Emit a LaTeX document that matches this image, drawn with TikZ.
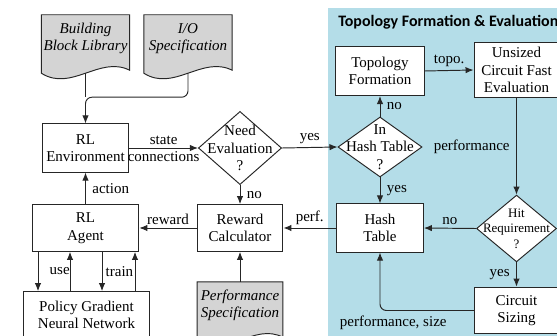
\documentclass[tikz,border=0pt]{standalone}
\usepackage{fontspec}
\setmainfont{Liberation Serif}
\newfontfamily\titlefont{Carlito}
\usepackage{tikz}
\usetikzlibrary{shapes,arrows,positioning,calc,arrows.meta}

\definecolor{panelblue}{RGB}{180,221,232}
\definecolor{docgray}{RGB}{212,212,212}

\pgfdeclarelayer{background}
\pgfsetlayers{background,main}

% document shape with a wavy bottom, drawn behind the node text
\newcommand{\docshape}[1]{%
  \begin{pgfonlayer}{background}
    \draw[docline] (#1.north west) -- (#1.north east) -- ($(#1.south east)+(0,8)$)
      .. controls ($(#1.south)+(14,-7)$) and ($(#1.south)+(-14,30)$) .. ($(#1.south west)+(0,11)$) -- cycle;
  \end{pgfonlayer}
  \coordinate (#1-b) at ($(#1.south)+(0,11)$);
}

\begin{document}
\begin{tikzpicture}[x=0.022cm, y=-0.022cm,
    font=\fontsize{9.4}{11}\selectfont,
    block/.style={draw=black!85, fill=white, line width=0.6pt, align=center, inner sep=1pt},
    decision/.style={diamond, draw=black!85, fill=white, line width=0.6pt, inner sep=0pt},
    docbox/.style={align=center, inner sep=1pt, minimum width=1.93cm, minimum height=1.03cm, font=\fontsize{9.4}{11}\selectfont\itshape},
    docline/.style={draw=black!85, fill=docgray, line width=0.6pt},
    line/.style={draw=black!85, line width=0.6pt},
    conn/.style={line, -{Latex[length=5pt, width=4pt]}},
    lbl/.style={inner sep=2pt}]

    \useasboundingbox (0,0) rectangle (557,336);
    \clip (0,0) rectangle (557,336);

    % Topology formation & evaluation panel
    \begin{pgfonlayer}{background}
        \fill[panelblue] (328,8) rectangle (570,350);
    \end{pgfonlayer}
    \node[anchor=west, inner sep=0pt, font=\titlefont\bfseries\fontsize{10}{12}\selectfont] (paneltitle) at (338,22) {Topology Formation \& Evaluation};

    % Inputs
    \node[docbox] (bbl) at (85.5,38.5) {Building\\Block Library};
    \docshape{bbl}
    \node[docbox] (iospec) at (188,38.5) {I/O\\Specification};
    \docshape{iospec}

    % RL loop
    \node[block, minimum width=1.91cm, minimum height=1.06cm] (env) at (85.5,148) {RL\\Environment};
    \node[decision, minimum width=1.83cm, minimum height=1.61cm,
          label={[align=center]center:Need\\Evaluation\\?}] (needeval) at (240,148) {};
    \node[block, minimum width=1.89cm, minimum height=1.03cm] (reward) at (240,228) {Reward\\Calculator};
    \node[docbox, minimum width=1.87cm] (perfspec) at (240,305.5) {Performance\\Specification};
    \docshape{perfspec}
    \node[block, minimum width=2.35cm, minimum height=1.03cm] (agent) at (85.5,228) {RL\\Agent};
    \node[block, minimum width=2.79cm, minimum height=1.03cm] (pgnn) at (86.5,315) {Policy Gradient\\Neural Network};

    % Topology side
    \node[block, minimum width=1.94cm, minimum height=1.08cm] (topo) at (380,71) {Topology\\Formation};
    \node[block, minimum width=1.87cm, minimum height=1.23cm] (fasteval) at (516.5,70) {Unsized\\Circuit Fast\\Evaluation};
    \node[decision, minimum width=1.85cm, minimum height=1.32cm,
          label={[align=center]center:In\\Hash Table\\?}] (inhash) at (380,147) {};
    \node[block, minimum width=1.91cm, minimum height=1.06cm] (hash) at (380,228) {Hash\\Table};
    \node[decision, minimum width=1.76cm, minimum height=1.47cm,
          label={[align=center, font=\fontsize{8.1}{9.7}\selectfont]center:Hit\\Requirement\\?}] (hitreq) at (516.5,228.5) {};
    \node[block, minimum width=1.83cm, minimum height=1.03cm] (sizing) at (516.5,310.5) {Circuit\\Sizing};

    % Connectors
    \coordinate (merge) at ($(bbl-b)+(0,24)$);
    \draw[line] (bbl-b) -- (merge);
    \draw[conn, rounded corners=4pt] (iospec-b) |- (merge) -- (env.north);
    \draw[conn] (env.east) -- node[lbl, above] {state} node[lbl, below] {connections} (needeval.west);
    \draw[conn] (needeval.south) -- node[lbl, right=2pt] {no} (reward.north);
    \draw[conn] (perfspec.north) -- (reward.south);
    \draw[conn] (reward.west) -- node[lbl, above] {reward} (agent.east);
    \draw[conn] (agent.north) -- node[lbl, right=2pt] {action} (env.south);
    \draw[conn] ($(agent.south)+(-47.5,0)$) -- node[lbl, right=5pt] {use} ($(pgnn.north)+(-48.5,0)$);
    \draw[conn] ($(pgnn.north)+(-16.5,0)$) -- ($(agent.south)+(-15.5,0)$);
    \draw[conn] ($(agent.south)+(16.5,0)$) -- node[lbl, right=0pt] {train} ($(pgnn.north)+(15.5,0)$);
    \draw[conn] ($(pgnn.north)+(48.5,0)$) -- ($(agent.south)+(49.5,0)$);

    \draw[conn] (needeval.east) -- node[lbl, above] {yes} (inhash.west);
    \draw[conn] (inhash.north) -- node[lbl, right=2pt] {no} (topo.south);
    \draw[conn] (topo.east) -- node[lbl, above] {topo.} (fasteval.west);
    \draw[conn] (fasteval.south) -- node[lbl, left=2pt] {performance} (hitreq.north);
    \draw[conn] (inhash.south) -- node[lbl, right=2pt] {yes} (hash.north);
    \draw[conn] (hash.west) -- node[lbl, above] {perf.} (reward.east);
    \draw[conn] (hitreq.west) -- node[lbl, above] {no} (hash.east);
    \draw[conn] (hitreq.south) -- node[lbl, left=2pt] {yes} (sizing.north);
    \draw[conn, rounded corners=4pt] (sizing.west) -| node[pos=0.43, below] {performance, size} (hash.south);
\end{tikzpicture}
\end{document}
